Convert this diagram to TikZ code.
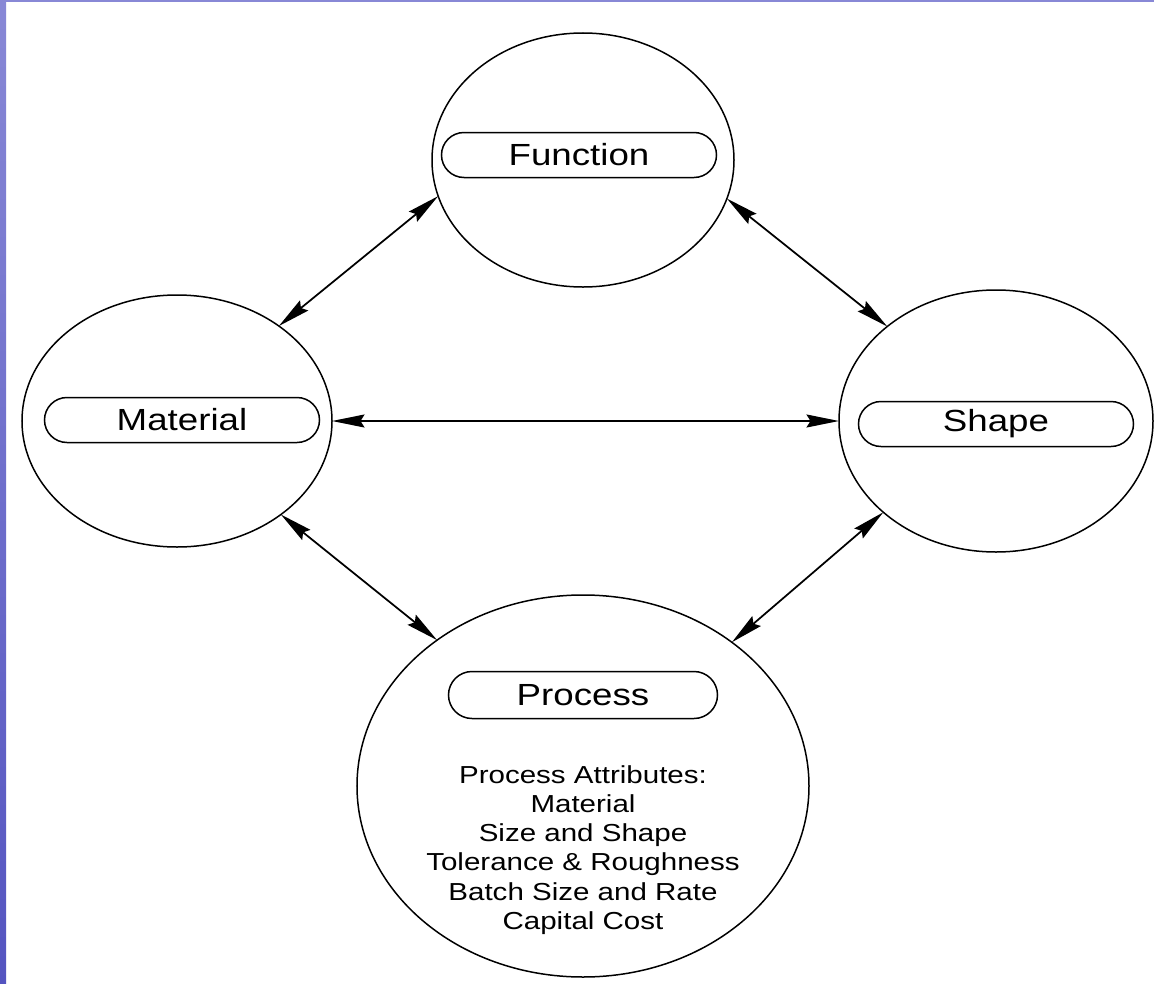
\documentclass[tikz,border=0pt]{standalone}
\usepackage{fontspec}
\setmainfont{Liberation Sans}[FakeStretch=1.2]
\usetikzlibrary{shapes.geometric,shapes.misc,arrows.meta}

\definecolor{stripetop}{RGB}{136,136,214}
\definecolor{stripebot}{RGB}{84,84,192}

\begin{document}
\begin{tikzpicture}[x=0.2mm,y=-0.2mm,
        every node/.style = {outer sep=0pt,inner sep=0pt},
        bubble/.style = {ellipse,draw,line width=.3mm},
        pill/.style = {rounded rectangle,draw,line width=.3mm,minimum width=55mm,minimum height=9mm,
            font=\fontsize{17.4}{20}\selectfont},
        link/.style = {line width=.35mm,
            {Stealth[length=6.5mm,width=2.6mm,inset=.8mm]}-{Stealth[length=6.5mm,width=2.6mm,inset=.8mm]}},
        ]
        \useasboundingbox (0,0) rectangle (1154,984);
        \fill[white] (0,0) rectangle (1154,984);
        \shade[top color=stripetop,bottom color=stripebot] (0,0) rectangle (6,984);
        \fill[stripetop] (0,0) rectangle (1154,1.5);

        \node[bubble,minimum width=60.4mm,minimum height=50.8mm] (fun) at (583,160) {};
        \node[bubble,minimum width=62mm,minimum height=50.4mm] (mat) at (177,421) {};
        \node[bubble,minimum width=62.8mm,minimum height=52.4mm] (shp) at (996,421) {};
        \node[bubble,minimum width=90.4mm,minimum height=76.4mm] (prc) at (583,786) {};

        \node[pill] (fun-label) at (579,155) {Function};
        \node[pill] (mat-label) at (182,420) {Material};
        \node[pill] (shp-label) at (996,424) {Shape};
        \node[pill,minimum width=53.8mm,minimum height=9.4mm] (prc-label) at (583,695) {Process};
        \node[align=center,font=\fontsize{14}{16.6}\selectfont] (prc-attr) at (583,850)
            {Process Attributes:\\Material\\Size and Shape\\Tolerance \& Roughness\\Batch Size and Rate\\Capital Cost};

        \draw[link] (mat.43) -- (fun.194);
        \draw[link] (fun.345.5) -- (shp.139.6);
        \draw[link] (mat.east) -- (shp.west);
        \draw[link] (mat.318.2) -- (prc.135.8);
        \draw[link] (shp.219.8) -- (prc.44.2);
    \end{tikzpicture}
\end{document}
